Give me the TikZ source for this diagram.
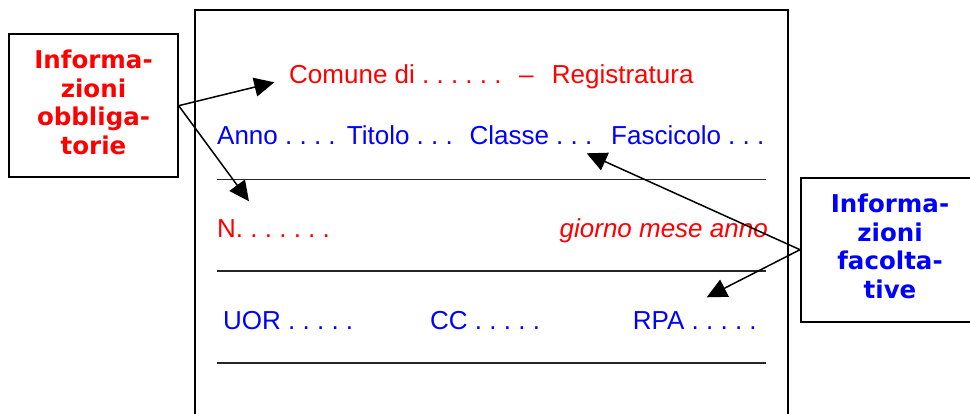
\documentclass[tikz,border=0pt]{standalone}
\usepackage{fontspec}
\setmainfont{Liberation Sans}
\newfontfamily\boxfont{DejaVu Sans}
\usetikzlibrary{arrows.meta}
\definecolor{rossa}{RGB}{255,0,0}
\definecolor{blu}{RGB}{0,0,255}
\frenchspacing
\tikzset{
  infobox/.style={draw=black, line width=2pt, inner sep=0pt, align=center,
    font=\boxfont\bfseries\fontsize{24.5}{28.7}\selectfont},
  rowtext/.style={anchor=base west, inner sep=0pt, font=\fontsize{26}{31}\selectfont\frenchspacing},
  rowtextR/.style={anchor=base east, inner sep=0pt, font=\fontsize{26}{31}\selectfont\itshape\frenchspacing},
  rule/.style={line width=1.4pt, black!85},
  pointer/.style={line width=1.5pt, -{Triangle[length=20pt,width=19pt]}},
}
\begin{document}
\begin{tikzpicture}[x=1pt,y=-1pt]
\clip (0,0) rectangle (970,414);
\fill[white] (0,0) rectangle (970,414);
% form frame
\draw[line width=2pt] (195,430) -- (195,10) -- (788,10) -- (788,430);
% boxes
\node[infobox, text=rossa, minimum width=168.4pt, minimum height=143.3pt] (lb) at (93.5,105.7)
  {Informa-\\zioni\\obbliga-\\torie\rule[-7pt]{0pt}{7pt}};
\node[infobox, text=blu, minimum width=178pt, minimum height=144pt] (rb) at (890,249.7)
  {Informa-\\zioni\\facolta-\\tive\rule[-7pt]{0pt}{7pt}};
% row 1
\node[rowtext, text=rossa] (comune) at (289,84) {Comune di . . . . . .};
\node[rowtext, text=rossa] (dash) at (519,84) {–};
\node[rowtext, text=rossa] (reg) at (551.7,84) {Registratura};
% row 2
\node[rowtext, text=blu] (anno) at (217,145) {Anno . . . .};
\node[rowtext, text=blu] (titolo) at (346.7,145) {Titolo . . .};
\node[rowtext, text=blu] (classe) at (469.3,145) {Classe . . .};
\node[rowtext, text=blu] (fasc) at (611,145) {Fascicolo . . .};
% row 3
\node[rowtext, text=rossa] (num) at (217,237.3) {N. . . . . . .};
\node[rowtextR, text=rossa] (data) at (768,237.3) {giorno mese anno};
% row 4
\node[rowtext, text=blu] (uor) at (223,329.3) {UOR . . . . .};
\node[rowtext, text=blu] (cc) at (430,329.3) {CC . . . . .};
\node[rowtext, text=blu] (rpa) at (632.7,329.3) {RPA . . . . .};
% rules
\coordinate (r1a) at (217,179.3); \coordinate (r1b) at (765.5,179.3);
\coordinate (r2a) at (217,271);   \coordinate (r2b) at (765.5,271);
\coordinate (r3a) at (217,363);   \coordinate (r3b) at (765.5,363);
\draw[rule] (r1a) -- (r1b);
\draw[rule] (r2a) -- (r2b);
\draw[rule] (r3a) -- (r3b);
% arrows
\coordinate (t1) at (274.3,82.3);
\coordinate (t2) at (249,201.3);
\coordinate (t3) at (586.7,153.3);
\coordinate (t4) at (706.7,297.3);
\draw[pointer] (lb.east) -- (t1);
\draw[pointer] (lb.east) -- (t2);
\draw[pointer] (rb.west) -- (t3);
\draw[pointer] (rb.west) -- (t4);
\end{tikzpicture}
\end{document}
